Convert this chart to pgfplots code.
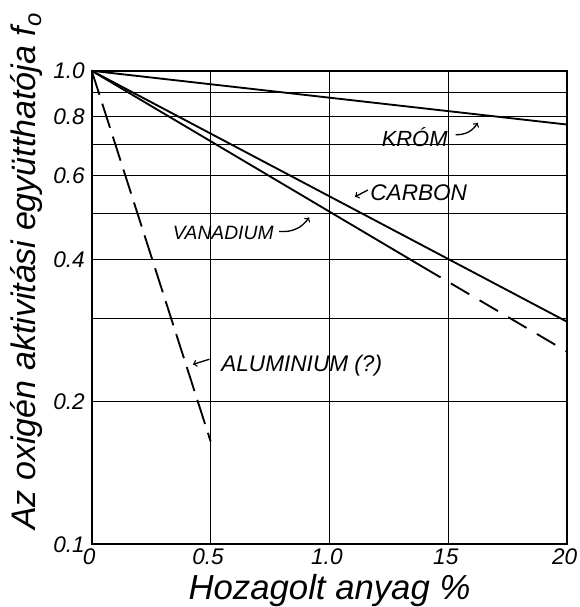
\documentclass[border=0pt]{standalone}
\usepackage{fontspec}
\setmainfont{Liberation Sans}
\usepackage{graphicx}
\usepackage{pgfplots}
\pgfplotsset{compat=1.18}
\begin{document}
\begin{tikzpicture}
\begin{axis}[
  name=ax,
  scale only axis,
  width=357.75pt, height=356.25pt,
  ymode=log,
  xmin=0, xmax=2, ymin=0.1, ymax=1,
  xtick={0,0.5,1,1.5,2},
  xticklabels={0,0.5,1.0,15,20},
  ytick={0.1,0.2,0.4,0.6,0.8,1},
  yticklabels={0.1,0.2,0.4,0.6,0.8,1.0},
  minor ytick={0.3,0.5,0.7,0.9},
  grid=both,
  major grid style={black, line width=0.8pt},
  minor grid style={black, line width=0.8pt},
  axis line style={line width=1.6pt},
  major tick length=0pt, minor tick length=0pt,
  every tick label/.append style={font=\fontsize{17}{17}\selectfont\itshape},
  xticklabel style={xshift=-2pt, yshift=-1pt, inner sep=2pt},
  yticklabel style={xshift=-3pt, inner sep=2pt},
  clip=false,
]
\addplot[black, line width=1.4pt] coordinates {(0,1) (2,0.77)};
\addplot[black, line width=1.4pt] coordinates {(0,1) (2,0.295)};
\addplot[black, line width=1.4pt] coordinates {(0,1) (1.39,0.386)};
\addplot[black, line width=1.4pt, dash pattern=on 16pt off 9pt] coordinates {(1.39,0.386) (2,0.255)};
\addplot[black, line width=1.4pt, dash pattern=on 19pt off 7pt] coordinates {(0,1) (0.5,0.165)};

\node[font=\fontsize{16.5}{16.5}\selectfont\itshape] at (axis cs:1.358,0.726) {KRÓM};
\node[font=\fontsize{17}{17}\selectfont\itshape] at (axis cs:1.375,0.553) {CARBON};
\node[font=\fontsize{14.5}{14.5}\selectfont\itshape] at (axis cs:0.553,0.454) {VANADIUM};
\node[font=\fontsize{17}{17}\selectfont\itshape] at (axis cs:0.883,0.239) {ALUMINIUM (?)};

\draw[->, line width=1pt] (axis cs:1.53,0.733) to[bend right=30] (axis cs:1.623,0.777);
\draw[->, line width=1pt] (axis cs:1.161,0.56) -- (axis cs:1.107,0.542);
\draw[->, line width=1pt] (axis cs:0.788,0.458) to[bend right=30] (axis cs:0.914,0.49);
\draw[->, line width=1pt] (axis cs:0.495,0.246) -- (axis cs:0.426,0.240);

\node[rotate=90] at (rel axis cs:-0.1363,0.577) {\resizebox{389pt}{!}{\fontsize{20}{20}\selectfont\itshape Az oxigén aktivitási együtthatója f\textsubscript{o}}};
\node[inner sep=0pt] at (rel axis cs:0.5,-0.098) {\resizebox{212pt}{!}{\fontsize{21}{21}\selectfont\itshape Hozagolt anyag \%}};
\end{axis}
\path ([shift={(-69pt,-45.75pt)}]ax.south west) rectangle ([shift={(6.75pt,53.25pt)}]ax.north east);
\end{tikzpicture}
\end{document}
